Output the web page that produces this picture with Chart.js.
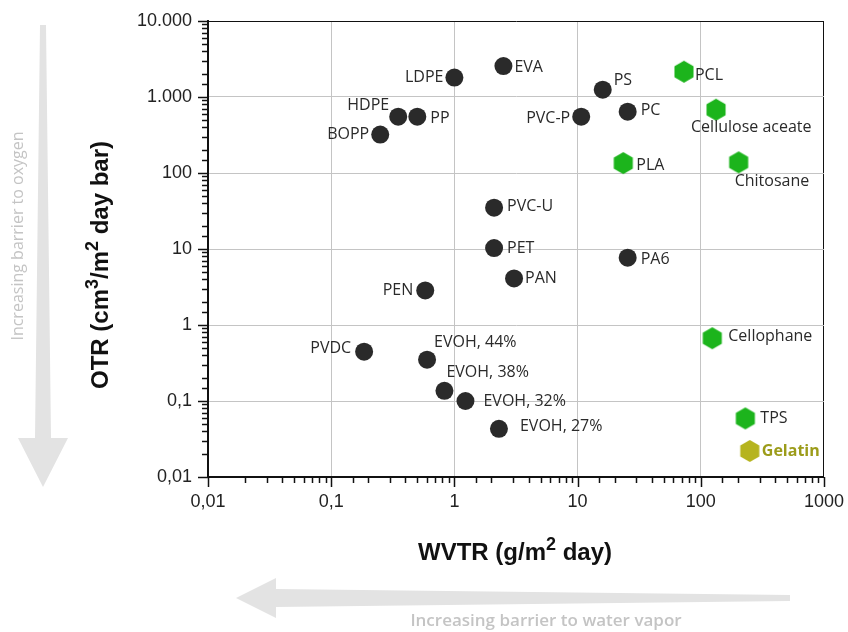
<!DOCTYPE html>
<html>
<head>
<meta charset="utf-8">
<script src="https://cdn.jsdelivr.net/npm/chart.js@4.4.1/dist/chart.umd.min.js"></script>
<style>
  body { margin: 0; background: #fff; }
  #wrap { width: 848px; height: 632px; }
</style>
</head>
<body>
<div id="wrap"><canvas id="barrierChart" width="848" height="632"></canvas></div>
<script>
// conventional polymers (dark circles)
const polyNames = ['LDPE', 'EVA', 'HDPE', 'PP', 'BOPP', 'PS', 'PVC-P', 'PC', 'PVC-U', 'PET', 'PAN', 'PA6', 'PEN', 'PVDC', 'EVOH, 44%', 'EVOH, 38%', 'EVOH, 32%', 'EVOH, 27%'];
const polyWVTR = [1.0, 2.5, 0.35, 0.5, 0.25, 16, 10.7, 25.5, 2.1, 2.1, 3.05, 25.5, 0.58, 0.185, 0.6, 0.83, 1.23, 2.3];
const polyOTR = [1800, 2550, 550, 550, 320, 1250, 550, 640, 35, 10.3, 4.1, 7.7, 2.85, 0.445, 0.35, 0.136, 0.1, 0.043];

// bio-based materials (green hexagons)
const bioNames = ['PCL', 'Cellulose aceate', 'PLA', 'Chitosane', 'Cellophane', 'TPS'];
const bioWVTR = [73, 133, 23.5, 203, 124, 230];
const bioOTR = [2150, 680, 135, 138, 0.67, 0.059];

// gelatin (olive hexagon)
const gelNames = ['Gelatin'];
const gelWVTR = [250];
const gelOTR = [0.022];

const xTickLabels = ['0,01', '0,1', '1', '10', '100', '1000'];
const yTickLabels = ['0,01', '0,1', '1', '10', '100', '1.000', '10.000'];

// where each label sits relative to its marker
const labelPlace = {
    'LDPE': [-11, 0, 'right'], 'EVA': [11, 1, 'left'], 'HDPE': [-9, -11, 'right'],
    'PP': [13, 2, 'left'], 'BOPP': [-11, 0, 'right'], 'PS': [11, -9, 'left'],
    'PVC-P': [-11, 2, 'right'], 'PC': [13, -1, 'left'], 'PVC-U': [13, -1, 'left'],
    'PET': [13, 0, 'left'], 'PAN': [11, 0, 'left'], 'PA6': [13, 2, 'left'],
    'PEN': [-12, 0, 'right'], 'PVDC': [-13, -3, 'right'], 'EVOH, 44%': [7, -17, 'left'],
    'EVOH, 38%': [2, -18, 'left'], 'EVOH, 32%': [18, 0, 'left'], 'EVOH, 27%': [21, -2, 'left'],
    'PCL': [11, 4, 'left'], 'Cellulose aceate': [-25, 18, 'left'], 'PLA': [13, 2, 'left'],
    'Chitosane': [-4, 19, 'left'], 'Cellophane': [16, -2, 'left'], 'TPS': [15, 0, 'left'],
    'Gelatin': [12, 0, 'left']
};

function hexagon(fill) {
    const c = document.createElement('canvas');
    c.width = 22; c.height = 24;
    const g = c.getContext('2d');
    g.fillStyle = fill;
    g.beginPath();
    for (let i = 0; i < 6; i++) {
        const a = Math.PI / 2 + i * Math.PI / 3;
        const px = 11 + 11 * Math.cos(a), py = 12 + 11 * Math.sin(a);
        if (i === 0) g.moveTo(px, py); else g.lineTo(px, py);
    }
    g.closePath();
    g.fill();
    return c;
}

function toPoints(xs, ys, names) {
    return xs.map((x, i) => ({ x: x, y: ys[i], name: names[i] }));
}

function isMajor(v) {
    const l = Math.log10(v);
    return Math.abs(l - Math.round(l)) < 1e-6;
}

function drawTitle(g, parts, x, y, rot) {
    // parts: [text, size, raise]
    g.save();
    g.translate(x, y);
    g.rotate(rot);
    let total = 0;
    parts.forEach(p => { g.font = 'bold ' + p[1] + 'px "Liberation Sans", Arial'; total += g.measureText(p[0]).width; });
    let cx = -total / 2;
    g.fillStyle = '#111';
    g.textBaseline = 'alphabetic';
    g.textAlign = 'left';
    parts.forEach(p => {
        g.font = 'bold ' + p[1] + 'px "Liberation Sans", Arial';
        g.fillText(p[0], cx, -p[2]);
        cx += g.measureText(p[0]).width;
    });
    g.restore();
}

const decorPlugin = {
    id: 'decor',
    beforeDraw(chart) {
        const g = chart.ctx;
        g.save();
        g.fillStyle = '#e3e3e3';
        // vertical arrow
        g.beginPath();
        g.moveTo(40, 25); g.lineTo(46, 25); g.lineTo(51, 438); g.lineTo(68, 438);
        g.lineTo(43, 487); g.lineTo(18, 438); g.lineTo(35, 438); g.closePath();
        g.fill();
        // horizontal arrow
        g.beginPath();
        g.moveTo(790, 595); g.lineTo(790, 601); g.lineTo(276, 607); g.lineTo(276, 618);
        g.lineTo(236, 598); g.lineTo(276, 578); g.lineTo(276, 589); g.closePath();
        g.fill();

        g.fillStyle = '#c4c4c4';
        g.textAlign = 'center';
        g.textBaseline = 'middle';
        g.font = '600 17px "Open Sans"';
        g.fillText('Increasing barrier to water vapor', 546, 621);
        g.translate(18, 236);
        g.rotate(-Math.PI / 2);
        g.font = '16px "Open Sans"';
        g.fillText('Increasing barrier to oxygen', 0, 0);
        g.restore();
    },
    afterDraw(chart) {
        const g = chart.ctx;
        const xs = chart.scales.x, ys = chart.scales.y;
        const area = chart.chartArea;
        g.save();
        g.strokeStyle = '#111';
        g.lineWidth = 1.5;
        // tick marks
        xs.ticks.forEach(t => {
            const px = Math.round(xs.getPixelForValue(t.value)) + 0.5;
            const len = isMajor(t.value) ? 10 : 6;
            g.beginPath(); g.moveTo(px, area.bottom); g.lineTo(px, area.bottom + len); g.stroke();
        });
        ys.ticks.forEach(t => {
            const py = Math.round(ys.getPixelForValue(t.value)) + 0.5;
            const len = isMajor(t.value) ? 10 : 6;
            g.beginPath(); g.moveTo(area.left, py); g.lineTo(area.left - len, py); g.stroke();
        });

        // point labels
        g.textBaseline = 'middle';
        chart.data.datasets.forEach((ds, di) => {
            const meta = chart.getDatasetMeta(di);
            meta.data.forEach((el, i) => {
                const name = ds.data[i].name;
                const p = labelPlace[name];
                g.textAlign = p[2];
                if (name === 'Gelatin') {
                    g.font = 'bold 16px "Open Sans"';
                    g.fillStyle = '#9c9c1a';
                } else {
                    g.font = '16px "Open Sans"';
                    g.fillStyle = '#2a2a2a';
                }
                g.fillText(name, el.x + p[0], el.y + p[1]);
            });
        });

        // axis titles
        drawTitle(g, [['WVTR (g/m', 24, 0], ['2', 18, 10], [' day)', 24, 0]], 515, 560, 0);
        drawTitle(g, [['OTR (cm', 24, 0], ['3', 18, 10], ['/m', 24, 0], ['2', 18, 10], [' day bar)', 24, 0]], 108, 265, -Math.PI / 2);
        g.restore();
    }
};

const gridColor = ctx => {
    const v = ctx.tick.value;
    if (!isMajor(v)) return 'rgba(0,0,0,0)';
    if (Math.abs(v - 1000) < 1e-6 && ctx.scale.axis === 'x') return '#111';
    if (Math.abs(v - 10000) < 1e-6 && ctx.scale.axis === 'y') return '#111';
    return '#c4c4c4';
};

new Chart(document.getElementById('barrierChart'), {
    type: 'scatter',
    data: {
        datasets: [{
            label: 'Polymers',
            data: toPoints(polyWVTR, polyOTR, polyNames),
            pointStyle: 'circle',
            pointRadius: 9,
            backgroundColor: '#2a2a2a',
            borderWidth: 0
        }, {
            label: 'Bio-based',
            data: toPoints(bioWVTR, bioOTR, bioNames),
            pointStyle: hexagon('#1cb41c'),
            pointRadius: 11
        }, {
            label: 'Gelatin',
            data: toPoints(gelWVTR, gelOTR, gelNames),
            pointStyle: hexagon('#b6b41e'),
            pointRadius: 11
        }]
    },
    options: {
        responsive: false,
        animation: false,
        layout: { padding: { top: 21, right: 24, left: 0, bottom: 0 } },
        plugins: { legend: { display: false }, tooltip: { enabled: false } },
        scales: {
            x: {
                type: 'logarithmic',
                min: 0.01,
                max: 1000,
                afterFit: s => { s.height = 155; },
                border: { color: '#111', width: 2 },
                grid: { color: gridColor, lineWidth: 1, drawTicks: true, tickLength: 10, tickColor: 'rgba(0,0,0,0)' },
                ticks: {
                    autoSkip: false,
                    maxRotation: 0,
                    padding: 4,
                    color: '#222',
                    font: { family: '"Liberation Sans", Arial', size: 18 },
                    callback: v => isMajor(v) ? xTickLabels[Math.round(Math.log10(v)) + 2] : ''
                }
            },
            y: {
                type: 'logarithmic',
                min: 0.01,
                max: 10000,
                afterFit: s => { s.width = 208; },
                border: { color: '#111', width: 2 },
                grid: { color: gridColor, lineWidth: 1, drawTicks: true, tickLength: 10, tickColor: 'rgba(0,0,0,0)' },
                ticks: {
                    autoSkip: false,
                    padding: 6,
                    color: '#222',
                    font: { family: '"Liberation Sans", Arial', size: 18 },
                    callback: v => isMajor(v) ? yTickLabels[Math.round(Math.log10(v)) + 2] : ''
                }
            }
        }
    },
    plugins: [decorPlugin]
});
</script>
</body>
</html>
